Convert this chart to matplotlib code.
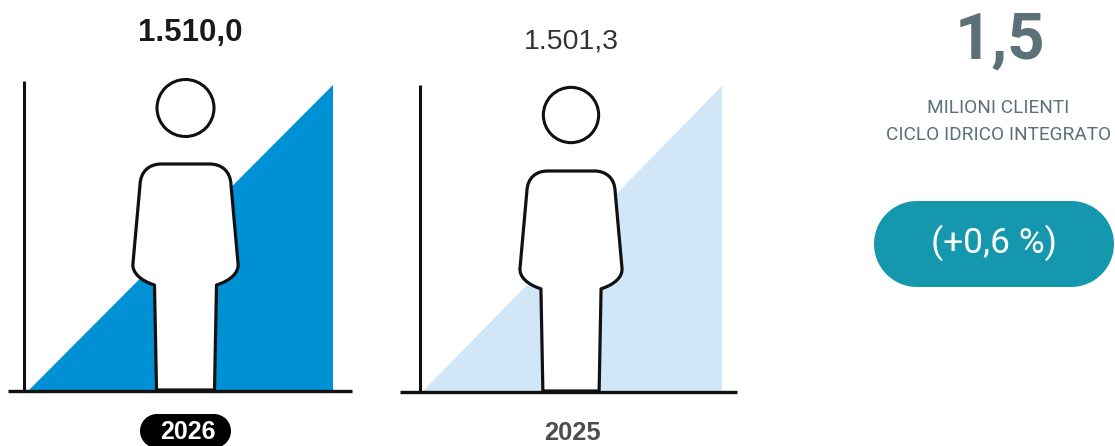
"""Clienti ciclo idrico integrato: pittogramma 2026 vs 2025 piu riquadro di sintesi."""
import matplotlib

matplotlib.use("Agg")
import matplotlib.pyplot as plt
from matplotlib.patches import Circle, PathPatch, Rectangle
from matplotlib.path import Path

years = [2026, 2025]
clients = [1510.0, 1501.3]
total = "1,5"
unit_lines = ["MILIONI CLIENTI", "CICLO IDRICO INTEGRATO"]
delta = "(+0,6 %)"

FONT = ["Liberation Sans", "DejaVu Sans"]
NARROW = ["Roboto", "Liberation Sans", "DejaVu Sans"]
BLUE, LIGHT = "#0090d4", "#d1e7f8"
SLATE, TEAL = "#5b7077", "#1598ad"
INK = "#111111"

# half of the figure, pixels measured on the 2026 one (x from centre, y from shoulders)
OUTLINE = [(Path.MOVETO, (0, 0)), (Path.LINETO, (24, 0)),
           (Path.CURVE4, (36, 0)), (Path.CURVE4, (45, 7)), (Path.CURVE4, (45.5, 21)),
           (Path.LINETO, (52.5, 99)),
           (Path.CURVE4, (54, 109)), (Path.CURVE4, (44, 117)), (Path.CURVE4, (31, 121)),
           (Path.LINETO, (29, 226)), (Path.LINETO, (0, 226))]


def it_number(v):
    return f"{v:,.1f}".replace(",", "#").replace(".", ",").replace("#", ".")


def person(ax, cx, head_y, top, foot, s):
    sy = (foot - top) / 226
    codes = [c for c, _ in OUTLINE]
    pts = [p for _, p in OUTLINE]
    # mirror: walk back up the left side with the same segments
    back_pts = [(-x, y) for x, y in pts[-2::-1]]
    back_codes = codes[:0:-1]
    verts = [(cx + x * s, top + y * sy) for x, y in pts + back_pts]
    ax.add_patch(PathPatch(Path(verts, codes + back_codes), fc="white", ec=INK, lw=2.3,
                           joinstyle="round", zorder=3))
    ax.add_patch(Circle((cx, head_y), 28.5 * s, fc="white", ec=INK, lw=2.2, zorder=3))


def pill(ax, x0, x1, y0, y1, color):
    r = (y1 - y0) / 2
    ax.add_patch(Rectangle((x0 + r, y0), x1 - x0 - 2 * r, y1 - y0, fc=color, ec="none", zorder=2))
    for cx in (x0 + r, x1 - r):
        ax.add_patch(Circle((cx, y0 + r), r, fc=color, ec="none", zorder=2))


fig = plt.figure(figsize=(11.15, 4.46), dpi=100)
ax = fig.add_axes([0, 0, 1, 1])
ax.set_xlim(0, 1115)
ax.set_ylim(446, 0)
ax.axis("off")

# 2026
ax.fill([29, 333, 333], [390, 85, 390], color=BLUE, lw=0, zorder=1)
ax.plot([24, 24], [81, 391], color=INK, lw=2.2, zorder=2, solid_capstyle="butt")
ax.plot([8, 352], [391, 391], color=INK, lw=2.4, zorder=4, solid_capstyle="butt")
person(ax, 185.5, 108, 164, 390, 1.0)
ax.text(190.5, 33, it_number(clients[0]), ha="center", va="center", fontsize=22.5,
        fontweight="bold", family=FONT, color="#1a1a1a")
pill(ax, 140, 231, 414, 448, "black")
ax.text(187.5, 432, str(years[0]), ha="center", va="center", fontsize=18,
        fontweight="bold", family=FONT, color="white", zorder=3)

# 2025
ax.fill([423, 722, 722], [391, 86, 391], color=LIGHT, lw=0, zorder=1)
ax.plot([420, 420], [85, 392], color=INK, lw=2.2, zorder=2, solid_capstyle="butt")
ax.plot([400, 737], [392, 392], color=INK, lw=2.4, zorder=4, solid_capstyle="butt")
person(ax, 571, 115, 171, 391, 0.97)
ax.text(571.5, 42, it_number(clients[1]), ha="center", va="center", fontsize=20.5,
        family=FONT, color="#333333")
ax.text(572.5, 433, str(years[1]), ha="center", va="center", fontsize=18.4,
        fontweight="bold", family=FONT, color="#4d4d4d")

# riquadro di sintesi
ax.text(1000, 41, total, ha="center", va="center", fontsize=47, fontweight="bold",
        family=NARROW, color=SLATE)
ax.text(998.5, 108, unit_lines[0], ha="center", va="center", fontsize=13.7,
        family=NARROW, color=SLATE)
ax.text(998.5, 135, unit_lines[1], ha="center", va="center", fontsize=13.7,
        family=NARROW, color=SLATE)
pill(ax, 874, 1114, 201, 287, TEAL)
ax.text(994, 243, delta, ha="center", va="center", fontsize=25.5, family=NARROW,
        color="white", zorder=3)

fig.savefig("out.png", dpi=100)
